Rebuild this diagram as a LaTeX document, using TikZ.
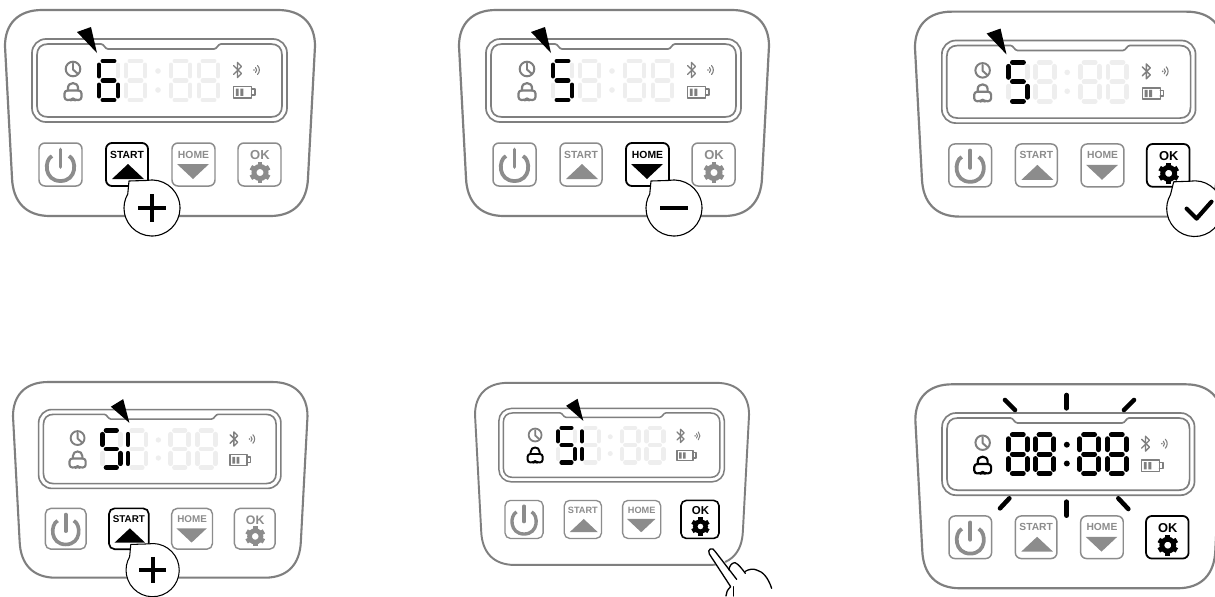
\documentclass[tikz,border=0pt]{standalone}
\usepackage{fontspec}
\setmainfont{Liberation Sans}
\definecolor{linegray}{HTML}{7F7F7F}
\definecolor{btngray}{HTML}{8C8C8C}
\definecolor{ghost}{HTML}{EEEEEE}
\tikzset{
  lw/.style={line width=\psc*#1*0.5669pt},
  bodyline/.style={draw=linegray,lw=2.2},
  screenline/.style={draw=linegray,lw=1.7},
  iconline/.style={lw=1.3,line cap=round,line join=round},
  segline/.style={lw=5,line cap=round},
  bubble/.style={draw=black,fill=white,lw=1.1,line join=round},
  bubblemark/.style={draw=black,lw=4.2},
  flash/.style={draw=black,line width=2.6pt,line cap=round},
  handline/.style={draw=black,line width=0.75pt,line cap=round,line join=round},
}
\newcommand{\sega}{\draw (\dgx+6,61) -- (\dgx+17,61);}
\newcommand{\segb}{\draw (\dgx+21,65) -- (\dgx+21,76);}
\newcommand{\segc}{\draw (\dgx+21,85) -- (\dgx+21,96);}
\newcommand{\segd}{\draw (\dgx+6,100) -- (\dgx+17,100);}
\newcommand{\sege}{\draw (\dgx+2,85) -- (\dgx+2,96);}
\newcommand{\segf}{\draw (\dgx+2,65) -- (\dgx+2,76);}
\newcommand{\segg}{\draw (\dgx+6,80.5) -- (\dgx+17,80.5);}
\newcommand{\digitseg}[3]{%
  \def\dgx{#1}%
  \begin{scope}[draw=#2,segline]
    \foreach \q in {#3}{\csname seg\q\endcsname}
  \end{scope}}
\newcommand{\gearicon}[3]{% x, y, colour
  \begin{scope}[shift={(#1,#2)}]
    \draw[#3,lw=5] (0,0) circle[radius=6];
    \foreach \a in {30,90,...,330}{\draw[#3,lw=5] (\a:6.5) -- (\a:10.5);}
  \end{scope}}
\newcommand{\pointer}[1]{\fill[black] #1;}
\newcommand{\panel}[6]{% dx dy scale active(1,2,3) lockcolour extra
  \begin{scope}[shift={(#1,#2)},scale=#3,transform shape]
    \def\psc{#3}
    \ifnum#4=1 \def\cola{black}\def\wa{1.8}\else\def\cola{btngray}\def\wa{1.5}\fi
    \ifnum#4=2 \def\colb{black}\def\wb{1.8}\else\def\colb{btngray}\def\wb{1.5}\fi
    \ifnum#4=3 \def\colc{black}\def\wc{1.8}\else\def\colc{btngray}\def\wc{1.5}\fi
    % body
    \draw[bodyline] (42,10) -- (278,10) .. controls (302,10) and (315,24) .. (315,46)
      -- (308,178) .. controls (307,202) and (294,216) .. (270,216)
      -- (50,216) .. controls (26,216) and (13,202) .. (12,178)
      -- (5,46) .. controls (5,24) and (18,10) .. (42,10) -- cycle;
    % screen
    \draw[screenline,rounded corners=\psc*14*0.5669pt] (32,39) rectangle (287,122);
    \draw[screenline] (48,44) -- (101,44) .. controls (104,44) and (105,49) .. (108,49)
      -- (214,49) .. controls (217,49) and (218,44) .. (221,44)
      -- (271,44) .. controls (278,44) and (282,48) .. (282,55)
      -- (282,106) .. controls (282,113) and (278,117) .. (271,117)
      -- (48,117) .. controls (41,117) and (37,113) .. (37,106)
      -- (37,55) .. controls (37,48) and (41,44) .. (48,44) -- cycle;
    % ghost digits
    \digitseg{97}{ghost}{a,b,c,d,e,f,g}
    \digitseg{124}{ghost}{a,b,c,d,e,f,g}
    \digitseg{169}{ghost}{a,b,c,d,e,f,g}
    \digitseg{197}{ghost}{a,b,c,d,e,f,g}
    \fill[ghost] (158,71) circle[radius=2.8] (158,90) circle[radius=2.8];
    % clock
    \draw[linegray,iconline,lw=2] (73,69) circle[radius=7.3];
    \draw[linegray,iconline,lw=2] (73,63.5) -- (73,69.5) -- (77.5,73.5);
    % lock
    \draw[#5,iconline,lw=2.2] (68,90.5) -- (68,88) .. controls (68,81.5) and (78,81.5) .. (78,88) -- (78,90.5);
    \draw[#5,iconline,lw=2.2,rounded corners=\psc*3*0.5669pt] (64.5,90.5) -- (81.5,90.5) -- (81.5,100) -- (75,100) -- (73,98.8) -- (71,100) -- (64.5,100) -- cycle;
    % bluetooth, signal, battery
    \draw[linegray,iconline,lw=1.4] (233.5,65.5) -- (241.5,73.5) -- (237.5,77.5) -- (237.5,62.5) -- (241.5,66.5) -- (233.5,74.5);
    \fill[linegray] (254,70) circle[radius=0.9];
    \draw[linegray,iconline,lw=1.1] (255.5,67.5) .. controls (257,69) and (257,71) .. (255.5,72.5);
    \draw[linegray,iconline,lw=1.1] (257.5,65.5) .. controls (260,68) and (260,72) .. (257.5,74.5);
    \draw[linegray,iconline,lw=1.5] (233.5,86.5) rectangle (251.5,98);
    \draw[linegray,iconline,lw=1.5] (251.5,89) -- (255,89) -- (255,95) -- (251.5,95);
    \fill[linegray] (235.8,88.7) rectangle (238.7,95.8) (240.4,88.7) rectangle (243.3,95.8);
    % power button
    \draw[btngray,lw=1.5,rounded corners=\psc*6*0.5669pt] (39,143) rectangle (82,186);
    \draw[btngray,lw=3.8,line cap=round] (60.5,149.5) -- (60.5,167);
    \draw[btngray,lw=3.8] (52,156) .. controls (44,160) and (44,181) .. (60.5,181) .. controls (77,181) and (77,160) .. (69,156);
    % START
    \draw[\cola,lw=\wa,rounded corners=\psc*6*0.5669pt] (106,143) rectangle (148,186);
    \node[\cola,font=\fontsize{5.9}{6}\selectfont\bfseries,inner sep=0pt] (start) at (127,154.5) {START};
    \fill[\cola] (112,179) -- (128,164) -- (144,179) -- cycle;
    % HOME
    \draw[\colb,lw=\wb,rounded corners=\psc*6*0.5669pt] (172,143) rectangle (215,186);
    \node[\colb,font=\fontsize{5.9}{6}\selectfont\bfseries,inner sep=0pt] (home) at (193.5,154.5) {HOME};
    \fill[\colb] (177,164) -- (209,164) -- (193,179) -- cycle;
    % OK
    \draw[\colc,lw=\wc,rounded corners=\psc*6*0.5669pt] (238,143) rectangle (281,186);
    \node[\colc,font=\fontsize{7.4}{8}\selectfont\bfseries,inner sep=0pt] (ok) at (260,155) {OK};
    \gearicon{260}{172.5}{\colc}
    #6
  \end{scope}}
\begin{document}
\begin{tikzpicture}[x=0.02cm,y=-0.02cm]
  \useasboundingbox (0,0) rectangle (1215,596);
  \fill[white] (0,0) rectangle (1215,596);
  \clip (0,0) rectangle (1215,596);
  % panel 1
  \panel{0}{0}{1}{1}{linegray}{
    \digitseg{97}{black}{a,f,g,e,c,d}
    \pointer{(77,32) -- (91,27) -- (97,53) -- cycle}
    \draw[bubble] (152,208)+(-100:28) arc[start angle=-100,end angle=210,radius=28] -- (129,181) -- cycle;
    \draw[bubblemark] (138,208) -- (166,208) (152,194) -- (152,222);
  }
  % panel 2
  \panel{454}{0}{1}{2}{linegray}{
    \digitseg{97}{black}{a,f,g,c,d}
    \pointer{(77,32) -- (91,27) -- (97,53) -- cycle}
    \draw[bubble] (220,208)+(-100:28) arc[start angle=-100,end angle=210,radius=28] -- (197,181) -- cycle;
    \draw[bubblemark] (206,208) -- (234,208);
  }
  % panel 3
  \panel{910}{1.7}{0.995}{3}{linegray}{
    \digitseg{97}{black}{a,f,g,c,d}
    \pointer{(77,32) -- (91,27) -- (97,53) -- cycle}
    \draw[bubble] (286,208)+(-100:28) arc[start angle=-100,end angle=210,radius=28] -- (265,181) -- cycle;
    \draw[bubblemark,line cap=round,line join=round] (278,208) -- (288,218) -- (303,201);
  }
  % panel 4
  \panel{8.25}{372.5}{0.95}{1}{linegray}{
    \digitseg{97}{black}{a,f,g,c,d}
    \digitseg{124}{black}{e,f}
    \pointer{(108,36) -- (121,28) -- (127.5,53) -- cycle}
    \draw[bubble] (152,208)+(-100:28) arc[start angle=-100,end angle=210,radius=28] -- (129,181) -- cycle;
    \draw[bubblemark] (138,208) -- (166,208) (152,194) -- (152,222);
  }
  % panel 5
  \panel{470.6}{374}{0.884}{3}{black}{
    \digitseg{97}{black}{a,f,g,c,d}
    \digitseg{124}{black}{e,f}
    \pointer{(108,36) -- (121,28) -- (127.5,53) -- cycle}
  }
  % panel 6
  \panel{910.4}{374.4}{0.99}{3}{black}{
    \digitseg{97}{black}{a,b,c,d,e,f,g}
    \digitseg{124}{black}{a,b,c,d,e,f,g}
    \digitseg{169}{black}{a,b,c,d,e,f,g}
    \digitseg{197}{black}{a,b,c,d,e,f,g}
    \fill[black] (158,71) circle[radius=3] (158,90) circle[radius=3];
  }
  % flashes around panel 6
  \begin{scope}[shift={(900,370)},scale=1/3]
    \draw[flash] (315,90) -- (345,120);
    \draw[flash] (500,75) -- (500,115);
    \draw[flash] (702,90) -- (672,120);
    \draw[flash] (300,415) -- (328,385);
    \draw[flash] (500,395) -- (500,437);
    \draw[flash] (655,385) -- (685,417);
  \end{scope}
  % hand on panel 5
  \begin{scope}[shift={(470,370)},scale=1/3]
    \fill[white] (712,540) -- (735,535) -- (775,590) -- (800,575) -- (890,600) -- (905,660) -- (905,690) -- (765,690) -- (775,655) -- cycle;
    \draw[handline] (768,678) .. controls (768,668) and (772,660) .. (782,650)
      -- (718,552) .. controls (710,538) and (728,528) .. (736,545) -- (800,628);
    \draw[handline] (790,678) -- (790,650);
    \draw[handline] (777,600) .. controls (778,588) and (785,578) .. (795,578)
      .. controls (805,582) and (815,595) .. (826,610);
    \draw[handline] (826,604) .. controls (835,598) and (850,595) .. (860,600)
      .. controls (880,605) and (895,625) .. (905,655);
  \end{scope}
\end{tikzpicture}
\end{document}
